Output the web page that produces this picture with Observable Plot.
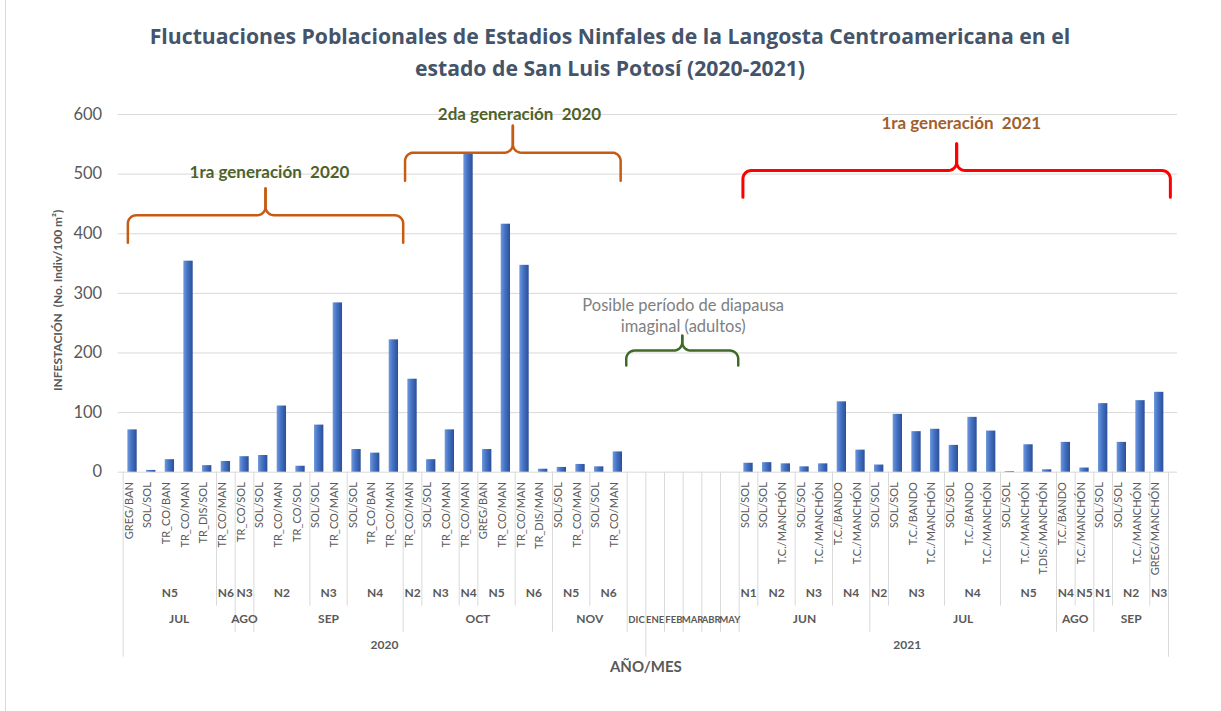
<!DOCTYPE html>
<html><head><meta charset="utf-8">
<script src="https://cdn.jsdelivr.net/npm/d3@7"></script>
<script src="https://cdn.jsdelivr.net/npm/@observablehq/plot@0.6"></script>
<style>
html,body{margin:0;padding:0;background:#fff;}
#wrap{position:relative;width:1221px;height:711px;overflow:hidden;font-family:Lato,"Open Sans",sans-serif;}
#border{position:absolute;left:5px;top:0;width:0;height:711px;border-left:1px solid #D9D9D9;}
#title{position:absolute;left:0;top:20px;width:1220px;text-align:center;font-family:"Open Sans",Lato,sans-serif;font-weight:bold;font-size:21.2px;line-height:32px;color:#44546A;}
#chart{position:absolute;left:0;top:90px;}
</style></head><body>
<div id="wrap"><div id="border"></div>
<div id="title">Fluctuaciones Poblacionales de Estadios Ninfales de la Langosta Centroamericana en el<br>estado de San Luis Potosí (2020-2021)</div>
<div id="chart"></div></div>
<script>
const subcats = [
  "GREG/BAN","SOL/SOL","TR_CO/BAN","TR_CO/MAN","TR_DIS/SOL",
  "TR_CO/MAN",
  "TR_CO/SOL",
  "SOL/SOL","TR_CO/MAN","TR_CO/SOL",
  "SOL/SOL","TR_CO/MAN",
  "SOL/SOL","TR_CO/BAN","TR_CO/MAN",
  "TR_CO/MAN",
  "SOL/SOL","TR_CO/MAN",
  "TR_CO/MAN",
  "GREG/BAN","TR_CO/MAN",
  "TR_CO/MAN","TR_DIS/MAN",
  "SOL/SOL","TR_CO/MAN",
  "SOL/SOL","TR_CO/MAN",
  "","","","","","",
  "SOL/SOL",
  "SOL/SOL","T.C./MANCHÓN",
  "SOL/SOL","T.C./MANCHÓN",
  "T.C./BANDO","T.C./MANCHÓN",
  "SOL/SOL",
  "SOL/SOL","T.C./BANDO","T.C./MANCHÓN",
  "SOL/SOL","T.C./BANDO","T.C./MANCHÓN",
  "SOL/SOL","T.C./MANCHÓN","T.DIS./MANCHÓN",
  "T.C./BANDO",
  "T.C./MANCHÓN",
  "SOL/SOL",
  "SOL/SOL","T.C./MANCHÓN",
  "GREG/MANCHÓN"
];
const values = [
  71, 3, 21, 354, 11, 18, 26, 28, 111, 10, 79, 284, 38, 32, 222,
  156, 21, 71, 535, 38, 416, 347, 5, 8, 13, 9, 34,
  null, null, null, null, null, null,
  15, 16, 14, 9, 14, 118, 37, 12, 97, 68, 72, 45, 92, 69, 1, 46, 4, 50, 7, 115, 50, 120, 134
];
const nGroups = [
  ["N5",5],["N6",1],["N3",1],["N2",3],["N3",2],["N4",3],
  ["N2",1],["N3",2],["N4",1],["N5",2],["N6",2],["N5",2],["N6",2],
  ["",1],["",1],["",1],["",1],["",1],["",1],
  ["N1",1],["N2",2],["N3",2],["N4",2],["N2",1],["N3",3],["N4",3],["N5",3],
  ["N4",1],["N5",1],["N1",1],["N2",2],["N3",1]
];
const monthGroups = [
  ["JUL",6],["AGO",1],["SEP",8],["OCT",8],["NOV",4],["DIC",1],
  ["ENE",1],["FEB",1],["MAR",1],["ABR",1],["MAY",1],["JUN",7],["JUL",10],["AGO",2],["SEP",4]
];
const yearGroups = [["2020",28],["2021",28]];
const yTicks = [0,100,200,300,400,500,600];

const annotations = [
  {x: 7.84, y: 503, text: "1ra generación  2020", color: "#4F6228"},
  {x: 21.23, y: 600, text: "2da generación  2020", color: "#4F6228"},
  {x: 44.9, y: 585, text: "1ra generación  2021", color: "#A0602C"}
];
const diapausa = [{x: 30.0, y: 264, text: "Posible período de diapausa\nimaginal (adultos)", color: "#808080"}];
const brackets = [
  {x0: 0.25, x1: 15.0, yH: 431, yEnd: 385, yPeak: 476, color: "#C65B14", w: 2.5},
  {x0: 15.1, x1: 26.65, yH: 536, yEnd: 489, yPeak: 581, color: "#C65B14", w: 2.5},
  {x0: 33.2, x1: 56.1, yH: 506, yEnd: 461, yPeak: 551, color: "#FF0000", w: 3},
  {x0: 26.95, x1: 32.95, yH: 204, yEnd: 179, yPeak: 229, color: "#3F6A28", w: 2.5}
];

const nCats = subcats.length;
const W = 1221, H = 621, mt = 24, mb = 239.3, ml = 122.7, mr = 53;
const frameH = H - mt - mb;
const axisFont = "Lato, 'Open Sans', sans-serif";

function spans(groups){ let s = 0; return groups.map(([label,n]) => { const r = {label, start: s, end: s + n, c: s + n/2}; s += n; return r; }); }
const nSpans = spans(nGroups), mSpans = spans(monthGroups), ySpans = spans(yearGroups);
const yearB = [0, ...ySpans.map(d => d.end)];
const monthB = mSpans.map(d => d.end).filter(x => !yearB.includes(x));
const nB = nSpans.map(d => d.end).filter(x => !yearB.includes(x) && !monthB.includes(x));

const cats = subcats.map((label, i) => ({i, label, v: values[i]}));
const bars = cats.filter(d => d.v != null);
// months with no bars (single empty category) are drawn a bit smaller so they fit their slot
const emptyMonth = d => d.end - d.start === 1 && values[d.start] == null;

function bracePts(b){
  const rx = 0.45, ry = 14, xc = (b.x0 + b.x1)/2, K = 8;
  const left = [], right = [];
  left.push([b.x0, b.yEnd]);
  for (let k = 0; k <= K; k++){ const t = k/K*Math.PI/2; left.push([b.x0 + rx*(1-Math.cos(t)), b.yH - ry*(1-Math.sin(t))]); }
  for (let k = 0; k <= K; k++){ const t = k/K*Math.PI/2; left.push([xc - rx + rx*Math.sin(t), b.yH + ry - ry*Math.cos(t)]); }
  left.push([xc, b.yPeak]);
  for (const [x,y] of left) right.push([2*xc - x, y]);
  return [left.map(p => ({x: p[0], y: p[1], z: "L"})), right.map(p => ({x: p[0], y: p[1], z: "R"}))].flat();
}

const marks = [
  Plot.ruleY(yTicks, {y: d => d, stroke: "#D9D9D9", strokeWidth: 1, insetLeft: -5, insetRight: -9}),
  Plot.axisY({ticks: yTicks, tickSize: 0, tickPadding: 21, fontSize: 16.5, fill: "#595959", label: null, fontFamily: axisFont}),
  Plot.rectY(bars, {x1: d => d.i + 0.25, x2: d => d.i + 0.75, y1: 0, y2: "v", fill: "url(#barGrad)"}),
  Plot.ruleX(yearB, {x: d => d, stroke: "#D9D9D9", strokeWidth: 1, insetTop: frameH, insetBottom: -185}),
  Plot.ruleX(monthB, {x: d => d, stroke: "#D9D9D9", strokeWidth: 1, insetTop: frameH, insetBottom: -160}),
  Plot.ruleX(nB, {x: d => d, stroke: "#D9D9D9", strokeWidth: 1, insetTop: frameH, insetBottom: -134}),
  Plot.text(cats.filter(d => d.label), {x: d => d.i + 0.5, text: "label", frameAnchor: "bottom", rotate: -90, textAnchor: "end", dy: 10, fontSize: 11, fill: "#595959", fontFamily: axisFont}),
  Plot.text(nSpans.filter(d => d.label), {x: "c", text: "label", frameAnchor: "bottom", dy: 125, fontSize: 12, fontWeight: "bold", fill: "#595959", fontFamily: axisFont}),
  Plot.text(mSpans.filter(d => !emptyMonth(d)), {x: "c", text: "label", frameAnchor: "bottom", dy: 151, fontSize: 12, fontWeight: "bold", fill: "#595959", fontFamily: axisFont}),
  Plot.text(mSpans.filter(emptyMonth), {x: "c", text: "label", frameAnchor: "bottom", dy: 151, fontSize: 9.5, fontWeight: "bold", fill: "#595959", fontFamily: axisFont}),
  Plot.text(ySpans, {x: "c", text: "label", frameAnchor: "bottom", dy: 177, fontSize: 12, fontWeight: "bold", fill: "#595959", fontFamily: axisFont}),
  Plot.text(["AÑO/MES"], {x: nCats/2, frameAnchor: "bottom", dy: 200, fontSize: 15, fontWeight: "bold", fill: "#595959", fontFamily: axisFont, letterSpacing: "1.5px"}),
  Plot.text(["INFESTACIÓN  (No. Indiv/100 m²)"], {frameAnchor: "left", textAnchor: "middle", dx: -64.7, dy: 7, rotate: -90, fontSize: 12, fontWeight: "bold", fill: "#595959", fontFamily: axisFont, letterSpacing: "0.5px"}),
  ...brackets.map(b => Plot.line(bracePts(b), {x: "x", y: "y", z: "z", stroke: b.color, strokeWidth: b.w, strokeLinecap: "round", strokeLinejoin: "round"})),
  Plot.text(annotations, {x: "x", y: "y", text: "text", fill: "color", fontSize: 17, fontWeight: "bold", fontFamily: axisFont}),
  Plot.text(diapausa, {x: "x", y: "y", text: "text", fill: "color", fontSize: 16.5, lineHeight: 1.3, fontFamily: axisFont})
];

const chart = Plot.plot({
  width: W, height: H,
  marginTop: mt, marginBottom: mb, marginLeft: ml, marginRight: mr,
  style: {fontFamily: axisFont, background: "transparent", overflow: "visible"},
  x: {type: "linear", domain: [0, nCats], axis: null},
  y: {domain: [0, 600], axis: null},
  color: {type: "identity"},
  marks
});
const defs = document.createElementNS("http://www.w3.org/2000/svg", "defs");
defs.innerHTML = '<linearGradient id="barGrad" x1="0" x2="1" y1="0" y2="0"><stop offset="0" stop-color="#7099DB"/><stop offset="0.4" stop-color="#4775C8"/><stop offset="1" stop-color="#2A4F96"/></linearGradient>';
chart.insertBefore(defs, chart.firstChild);
document.getElementById("chart").appendChild(chart);
</script>
</body></html>
